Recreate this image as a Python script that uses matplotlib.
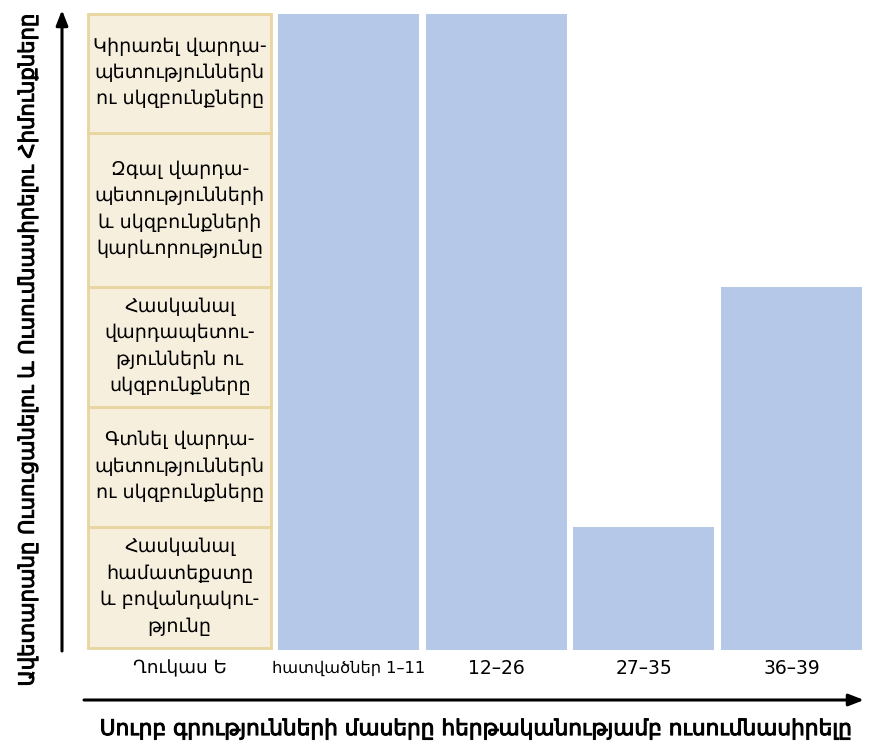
import matplotlib.pyplot as plt
from matplotlib.patches import Rectangle
import matplotlib.patheffects as pe

plt.rcParams['font.family'] = ['DejaVu Sans']

# data
categories = ['հատվածներ 1–11', '12–26', '27–35', '36–39']
levels = [5, 5, 1, 3]   # how many steps each part reaches
steps = ['Հասկանալ\nհամատեքստը\nև բովանդակու-\nթյունը',
         'Գտնել վարդա-\nպետություններն\nու սկզբունքները',
         'Հասկանալ\nվարդապետու-\nթյուններն ու\nսկզբունքները',
         'Զգալ վարդա-\nպետությունների\nև սկզբունքների\nկարևորությունը',
         'Կիրառել վարդա-\nպետություններն\nու սկզբունքները']
first_label = 'Ղուկաս Ե'
xlabel = 'Սուրբ գրությունների մասերը հերթականությամբ ուսումնասիրելը'
ylabel = 'Ավետարանը Ուսուցանելու և Ուսումնասիրելու Հիմունքները'

# row edges of the step boxes (bottom to top, box 4 is taller)
row_edges = [2, 123, 243, 363, 517, 636]

bar_col = '#b5c8e8'
box_fill = '#f6efde'
box_edge = '#e8d5a0'

W, H = 869, 752
fig = plt.figure(figsize=(W/100, H/100), dpi=100)
ax = fig.add_axes([87/W, (H-650)/H, (863-87)/W, (650-14)/H])
x0, x1 = -1.771, 3.484
ax.set_xlim(x0, x1)
ax.set_ylim(0, 636)
ax.axis('off')

bw = 0.955
tops = [row_edges[l] for l in levels]
ax.bar(range(len(categories)), tops, width=bw, color=bar_col, linewidth=0)

box_l, box_r = x0 + 0.01, -0.525
for i, txt in enumerate(steps):
    lo, hi = row_edges[i], row_edges[i+1]
    ax.add_patch(Rectangle((box_l, lo), box_r - box_l, hi - lo, facecolor=box_fill,
                           edgecolor=box_edge, linewidth=2, clip_on=False))
    ax.text((box_l + box_r)/2, (lo + hi)/2 + 1, txt, ha='center', va='center',
            fontsize=13.8, linespacing=1.5)

# tick labels under the bars
ax.text((box_l + box_r)/2, -18, first_label, ha='center', va='center', fontsize=13.2)
for i, c in enumerate(categories):
    fs = 11.7 if i == 0 else 13.5
    ax.text(i, -18, c, ha='center', va='center', fontsize=fs)

# axis arrows in figure pixels
fa = fig.add_axes([0, 0, 1, 1], zorder=-1)
fa.set_xlim(0, W)
fa.set_ylim(H, 0)
fa.axis('off')
fa.annotate('', xy=(864, 700), xytext=(84, 700),
            arrowprops=dict(arrowstyle='-|>,head_length=0.9,head_width=0.35', color='black', lw=2.2,
                            shrinkA=0, shrinkB=0))
fa.annotate('', xy=(62, 10), xytext=(62, 651),
            arrowprops=dict(arrowstyle='-|>,head_length=0.9,head_width=0.35', color='black', lw=2.2,
                            shrinkA=0, shrinkB=0))
thick = [pe.withStroke(linewidth=0.7, foreground='black')]
fa.text(476, 729, xlabel, ha='center', va='center', fontsize=15.6, path_effects=thick)
fa.text(28, 350, ylabel, ha='center', va='center', rotation=90, fontsize=15.2, path_effects=thick)

fig.savefig('out.png', dpi=100)
